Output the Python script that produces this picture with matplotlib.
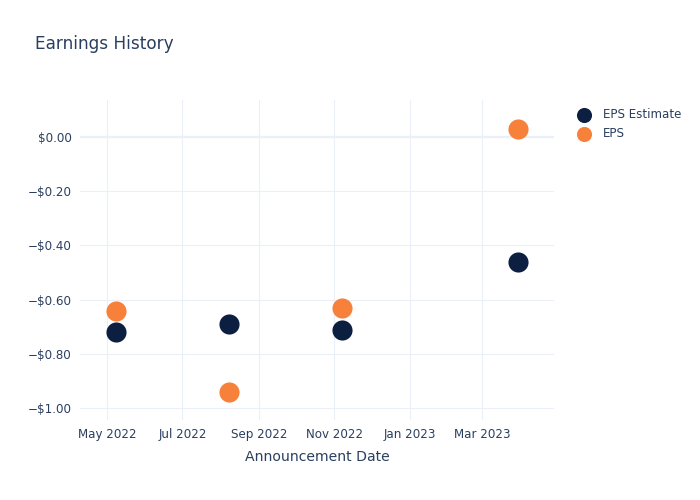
import matplotlib
matplotlib.use("Agg")
import matplotlib.pyplot as plt
import matplotlib.dates as mdates
from matplotlib.ticker import FuncFormatter, MultipleLocator
import pandas as pd

# data
dates = ["2022-05-08", "2022-08-08", "2022-11-07", "2023-03-30"]
eps_estimate = [-0.72, -0.69, -0.71, -0.46]
eps_actual = [-0.64, -0.94, -0.63, 0.03]

x = pd.to_datetime(dates)

text_color = "#2a3f5f"
grid_color = "#ebf0f8"
navy = "#0c1f40"
orange = "#f7813a"

plt.rcParams["font.family"] = ["DejaVu Sans"]

fig = plt.figure(figsize=(7, 5), dpi=100)
ax = fig.add_axes([80 / 700, 80 / 500, 474 / 700, 320 / 500])

ax.scatter(x, eps_estimate, s=210, color=navy, label="EPS Estimate", zorder=3, linewidths=0)
ax.scatter(x, eps_actual, s=210, color=orange, label="EPS", zorder=3, linewidths=0)

ax.set_xlim(pd.Timestamp("2022-04-09"), pd.Timestamp("2023-04-28"))
ax.set_ylim(-1.043, 0.135)

ax.xaxis.set_major_locator(mdates.MonthLocator(bymonth=[1, 3, 5, 7, 9, 11]))
ax.xaxis.set_major_formatter(mdates.DateFormatter("%b %Y"))
ax.yaxis.set_major_locator(MultipleLocator(0.2))


def money(v, pos):
    if abs(v) < 1e-9:
        return "$0.00"
    return ("\u2212" if v < 0 else "") + "${:.2f}".format(abs(v))


ax.yaxis.set_major_formatter(FuncFormatter(money))

ax.grid(True, color=grid_color, linewidth=0.8, zorder=0)
ax.axhline(0, color=grid_color, linewidth=1.6, zorder=1)
for s in ax.spines.values():
    s.set_visible(False)
ax.tick_params(length=0, colors=text_color, labelsize=8.6, pad=6)

ax.set_xlabel("Announcement Date", color=text_color, fontsize=10.1, labelpad=6)

fig.text(35 / 700, 1 - 44 / 500, "Earnings History", color=text_color, fontsize=12.2, va="center")

leg = fig.legend(loc="upper left", bbox_to_anchor=(567 / 700, 1 - 103 / 500), frameon=False,
                 fontsize=8.6, labelcolor=text_color, markerscale=0.75, handletextpad=0.6,
                 labelspacing=0.55, borderaxespad=0)

fig.savefig("out.png", dpi=100)
